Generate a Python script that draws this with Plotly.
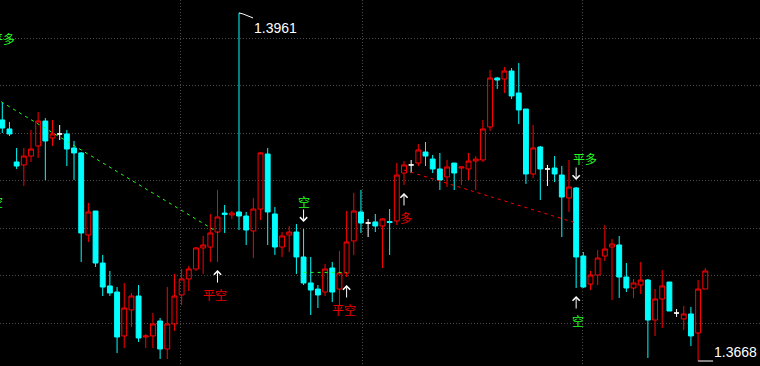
import plotly.graph_objects as go

# ---------------- data (prices) ----------------
open_ = [1.38710, 1.38634, 1.38356, 1.38331, 1.38406, 1.38491, 1.38701, 1.38558, 1.38592, 1.38592,
         1.38474, 1.38432, 1.37741, 1.37943, 1.37505, 1.37312, 1.37261, 1.36891, 1.37110, 1.37227,
         1.36882, 1.36891, 1.37017, 1.36781, 1.36992, 1.37236, 1.37371, 1.37455, 1.37632, 1.37640,
         1.37766, 1.37926, 1.37910, 1.37935, 1.37901, 1.37775, 1.37960, 1.38423, 1.37918, 1.37640,
         1.37741, 1.37766, 1.37556, 1.37337, 1.37286, 1.37261, 1.37463, 1.37286, 1.37421, 1.37691,
         1.37935, 1.37842, 1.37851, 1.37817, 1.37855, 1.37859, 1.38263, 1.38331, 1.38347, 1.38440,
         1.38381, 1.38297, 1.38230, 1.38347, 1.38305, 1.38297, 1.38364, 1.38373, 1.38651, 1.39063,
         1.39055, 1.39122, 1.38937, 1.38802, 1.38255, 1.38482, 1.38297, 1.38305, 1.38246, 1.38053,
         1.38137, 1.37564, 1.37328, 1.37404, 1.37564, 1.37640, 1.37657, 1.37387, 1.37295, 1.37320,
         1.37362, 1.37025, 1.37202, 1.37345, 1.37084, 1.37034, 1.37076, 1.36916, 1.37286]
high = [1.38853, 1.38693, 1.38474, 1.38474, 1.38625, 1.38777, 1.38726, 1.38710, 1.38667, 1.38625,
        1.38533, 1.38440, 1.38011, 1.37943, 1.37573, 1.37438, 1.37303, 1.37337, 1.37253, 1.37320,
        1.36907, 1.37084, 1.37042, 1.37303, 1.37413, 1.37455, 1.37480, 1.37640, 1.37733, 1.37918,
        1.38120, 1.37994, 1.37943, 1.39611, 1.37935, 1.38053, 1.38440, 1.38474, 1.37977, 1.37766,
        1.37817, 1.37834, 1.37792, 1.37556, 1.37320, 1.37497, 1.37514, 1.37606, 1.37943, 1.38095,
        1.38120, 1.37876, 1.37918, 1.37884, 1.37960, 1.38347, 1.38364, 1.38373, 1.38507, 1.38524,
        1.38415, 1.38432, 1.38373, 1.38347, 1.38314, 1.38432, 1.38406, 1.38710, 1.39131, 1.39072,
        1.39156, 1.39147, 1.39189, 1.38802, 1.38667, 1.38491, 1.38331, 1.38406, 1.38322, 1.38373,
        1.38145, 1.37598, 1.37438, 1.37615, 1.37825, 1.37707, 1.37733, 1.37505, 1.37371, 1.37514,
        1.37371, 1.37286, 1.37446, 1.37345, 1.37118, 1.37143, 1.37135, 1.37362, 1.37463]
low = [1.38600, 1.38575, 1.38297, 1.38154, 1.38356, 1.38390, 1.38204, 1.38491, 1.38541, 1.38322,
       1.38204, 1.37514, 1.37682, 1.37472, 1.37227, 1.37227, 1.36747, 1.36790, 1.36966, 1.36840,
       1.36790, 1.36790, 1.36697, 1.36697, 1.36933, 1.37152, 1.37270, 1.37438, 1.37413, 1.37514,
       1.37514, 1.37758, 1.37876, 1.37783, 1.37657, 1.37547, 1.37867, 1.37657, 1.37573, 1.37556,
       1.37598, 1.37413, 1.37320, 1.37067, 1.37126, 1.37227, 1.37177, 1.37143, 1.37387, 1.37573,
       1.37758, 1.37724, 1.37766, 1.37463, 1.37573, 1.37825, 1.38162, 1.38263, 1.38322, 1.38322,
       1.38263, 1.38120, 1.38145, 1.38120, 1.38162, 1.38204, 1.38120, 1.38356, 1.38617, 1.38971,
       1.38937, 1.38886, 1.38676, 1.38171, 1.38221, 1.38036, 1.38154, 1.38187, 1.37724, 1.37935,
       1.37295, 1.37295, 1.37278, 1.37320, 1.37522, 1.37194, 1.37211, 1.37261, 1.37211, 1.37244,
       1.36705, 1.36891, 1.36958, 1.37101, 1.37051, 1.36941, 1.36806, 1.36680, 1.37286]
close = [1.38642, 1.38592, 1.38322, 1.38406, 1.38465, 1.38701, 1.38533, 1.38592, 1.38592, 1.38465,
         1.38432, 1.37758, 1.37935, 1.37505, 1.37303, 1.37253, 1.36882, 1.37126, 1.37227, 1.36874,
         1.36891, 1.36992, 1.36781, 1.36992, 1.37227, 1.37371, 1.37455, 1.37632, 1.37657, 1.37758,
         1.37893, 1.37914, 1.37926, 1.37901, 1.37783, 1.37960, 1.38432, 1.37935, 1.37640, 1.37733,
         1.37766, 1.37556, 1.37337, 1.37278, 1.37236, 1.37455, 1.37261, 1.37421, 1.37682, 1.37943,
         1.37842, 1.37842, 1.37817, 1.37876, 1.37846, 1.38246, 1.38331, 1.38331, 1.38457, 1.38406,
         1.38297, 1.38204, 1.38314, 1.38263, 1.38314, 1.38364, 1.38381, 1.38634, 1.39063, 1.39046,
         1.39122, 1.38912, 1.38794, 1.38255, 1.38474, 1.38297, 1.38297, 1.38255, 1.38061, 1.38145,
         1.37556, 1.37303, 1.37404, 1.37547, 1.37623, 1.37665, 1.37387, 1.37295, 1.37337, 1.37362,
         1.37025, 1.37202, 1.37312, 1.37101, 1.37084, 1.37076, 1.36891, 1.37286, 1.37438]

# price grid and session separators
price_grid = [1.370, 1.374, 1.378, 1.382, 1.386, 1.390, 1.394]
session_grid = [24.9, 50.15, 80.95]

# trade signals: text labels
sig_text = ["平多", "空", "平空", "空", "平空", "多", "平多", "空"]
sig_x = [0.1, -0.74, 29.72, 42.06, 47.7, 56.28, 81.17, 80.2]
sig_y = [1.39400, 1.38019, 1.37236, 1.38027, 1.37110, 1.37888, 1.38384, 1.37017]
sig_kind = ["exit", "entry", "exit_r", "entry", "exit_r", "entry_r", "exit", "entry"]

# signal arrows: bar index, tip price, direction
arr_x = [30, 42, 48, 56, 80, 80]
arr_y = [1.37446, 1.37851, 1.37320, 1.38095, 1.38204, 1.37227]
arr_dir = ["up", "down", "up", "up", "down", "up"]

# trade connection lines (bar index pairs, price pairs)
green_line_x = [-1, 30]
green_line_y = [1.38894, 1.37766]
green_flat_x = [42, 48]
green_flat_y = [1.37426, 1.37426]
red_line_x = [56, 80]
red_line_y = [1.38288, 1.37842]

# ---------------- figure ----------------
RED = "#ff0000"
CYAN = "#00ffff"
GREEN = "#22ff22"
TXT_RED = "#e60000"
X_RANGE = [-0.32, 105.63]
PX_PER_BAR = 760 / (X_RANGE[1] - X_RANGE[0])

idx = list(range(len(open_)))
up = [i for i in idx if close[i] > open_[i]]
dn = [i for i in idx if close[i] < open_[i]]
dj = [i for i in idx if close[i] == open_[i]]


def pick(lst, ids):
    return [lst[i] for i in ids]


fig = go.Figure()


def add_candles(ids, inc_line, inc_fill, dec_line, dec_fill):
    fig.add_trace(go.Candlestick(
        x=ids, open=pick(open_, ids), high=pick(high, ids),
        low=pick(low, ids), close=pick(close, ids),
        increasing=dict(line=dict(color=inc_line, width=1), fillcolor=inc_fill),
        decreasing=dict(line=dict(color=dec_line, width=1), fillcolor=dec_fill),
        whiskerwidth=0, showlegend=False, hoverinfo="skip"))


add_candles(up, RED, "rgba(0,0,0,0)", RED, "rgba(0,0,0,0)")
add_candles(dn, CYAN, CYAN, CYAN, CYAN)
add_candles(dj, "#ffffff", "#ffffff", "#ffffff", "#ffffff")

for xs, ys, col in [(green_line_x, green_line_y, GREEN),
                    (green_flat_x, green_flat_y, GREEN),
                    (red_line_x, red_line_y, RED)]:
    fig.add_trace(go.Scatter(x=xs, y=ys, mode="lines",
                             line=dict(color=col, width=1, dash="3px,4px"),
                             showlegend=False, hoverinfo="skip"))

annotations = []
for t, x, y, k in zip(sig_text, sig_x, sig_y, sig_kind):
    col = GREEN if k in ("exit", "entry") else TXT_RED
    # labels whose anchor lies left of the visible range are anchored at the
    # edge and shifted, so plotly still draws the visible part
    xa, shift = x, 0
    if x < X_RANGE[0] + 0.02:
        xa = X_RANGE[0] + 0.02
        shift = (x - xa) * PX_PER_BAR
    annotations.append(dict(x=xa, y=y, text=t, showarrow=False, xshift=shift,
                            font=dict(family="Noto Sans CJK SC", size=12, color=col),
                            xanchor="center", yanchor="middle"))
for x, y, d in zip(arr_x, arr_y, arr_dir):
    annotations.append(dict(x=x, y=y, text="", showarrow=True, ax=0,
                            ay=14 if d == "up" else -14,
                            arrowcolor="#ffffff", arrowwidth=1, arrowhead=4,
                            arrowsize=1.4, standoff=0))

i_max = max(idx, key=lambda i: high[i])
i_min = min(idx, key=lambda i: low[i])
annotations.append(dict(x=i_max, y=high[i_max], text=f"{high[i_max]:.4f}",
                        showarrow=False, xanchor="left", yanchor="middle",
                        xshift=13, yshift=-15,
                        font=dict(family="Liberation Sans", size=14, color="#ffffff")))
annotations.append(dict(x=i_min, y=low[i_min], text=f"{low[i_min]:.4f}",
                        showarrow=False, xanchor="left", yanchor="middle",
                        xshift=14, yshift=9,
                        font=dict(family="Liberation Sans", size=14, color="#ffffff")))

shapes = [
    dict(type="path", xref="x", yref="y", xsizemode="pixel", ysizemode="pixel",
         xanchor=i_max, yanchor=high[i_max], path="M0,0 L4,-1 L14,-5",
         line=dict(color="#ffffff", width=1)),
    dict(type="line", xref="x", yref="y", xsizemode="pixel", ysizemode="pixel",
         xanchor=i_min, yanchor=low[i_min], x0=0, x1=15, y0=0, y1=0,
         line=dict(color="#ffffff", width=1)),
]

fig.update_layout(
    width=760, height=366, margin=dict(l=0, r=0, t=0, b=0),
    paper_bgcolor="#000000", plot_bgcolor="#000000",
    boxgap=0.32, boxgroupgap=0,
    annotations=annotations, shapes=shapes, showlegend=False,
    xaxis=dict(range=X_RANGE, tickvals=session_grid, showticklabels=False,
               ticks="", showgrid=True, gridcolor="#4a4a4a", griddash="1px,2px",
               gridwidth=1, zeroline=False, showline=False,
               rangeslider=dict(visible=False), fixedrange=True),
    yaxis=dict(range=[1.366379, 1.39720], tickvals=price_grid, showticklabels=False,
               ticks="", showgrid=True, gridcolor="#4a4a4a", griddash="1px,2px",
               gridwidth=1, zeroline=False, showline=False, fixedrange=True),
)

fig.write_html("out.html")
